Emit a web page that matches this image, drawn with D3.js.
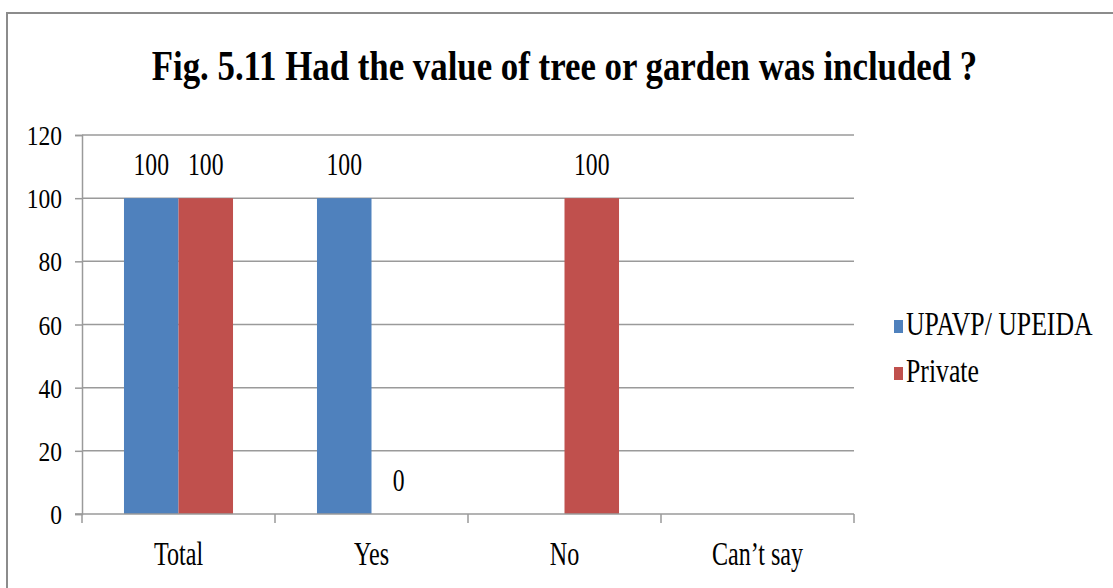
<!DOCTYPE html>
<html>
<head>
<meta charset="utf-8">
<script src="https://cdn.jsdelivr.net/npm/d3@7"></script>
<style>
  html, body { margin: 0; padding: 0; background: #fff; }
  svg { display: block; }
  text { fill: #000; }
</style>
</head>
<body>
<svg id="chart" width="1113" height="588" font-family="'Liberation Serif', 'Times New Roman', Tinos, 'DejaVu Serif', serif"></svg>
<script>
const categories = ["Total", "Yes", "No", "Can\u2019t say"];
const seriesNames = ["UPAVP/ UPEIDA", "Private"];
const upavpValues = [100, 100, null, null];
const privateValues = [100, 0, 100, null];
const yTicks = [0, 20, 40, 60, 80, 100, 120];
const chartTitle = "Fig. 5.11 Had the value of tree or garden was included ?";

const colors = ["#4f81bd", "#c0504d"];
const gridColor = "#9a9a9a";

const svg = d3.select("#chart");
const margin = { left: 82, right: 259, top: 135, bottom: 74 };
const width = 1113, height = 588;

// text in the original is horizontally condensed
function squeezed(sel, x, y, sx) {
  return sel.attr("transform", `translate(${x},${y}) scale(${sx},1)`);
}

// outer frame
svg.append("rect")
  .attr("x", 7).attr("y", 13)
  .attr("width", 1140).attr("height", 600)
  .attr("fill", "none")
  .attr("stroke", "#8c8c8c")
  .attr("stroke-width", 2);

const x0 = d3.scaleBand()
  .domain(categories)
  .range([margin.left, width - margin.right]);

const x1 = d3.scaleBand()
  .domain(seriesNames)
  .range([0, x0.bandwidth()])
  .paddingOuter(0.77);

const y = d3.scaleLinear()
  .domain([0, 120])
  .range([height - margin.bottom, margin.top]);

// gridlines
svg.append("g")
  .selectAll("line")
  .data(yTicks.filter((t) => t > 0))
  .join("line")
  .attr("x1", margin.left)
  .attr("x2", width - margin.right)
  .attr("y1", (d) => y(d))
  .attr("y2", (d) => y(d))
  .attr("stroke", gridColor)
  .attr("stroke-width", 1.5);

// bars
const rows = categories.map((c, i) => ({
  cat: c,
  vals: [upavpValues[i], privateValues[i]],
}));

const groups = svg.append("g")
  .selectAll("g")
  .data(rows)
  .join("g")
  .attr("transform", (d) => `translate(${x0(d.cat)},0)`);

groups.selectAll("rect")
  .data((d) => d.vals.map((v, k) => ({ v, k })).filter((e) => e.v !== null))
  .join("rect")
  .attr("x", (e) => x1(seriesNames[e.k]))
  .attr("width", x1.bandwidth())
  .attr("y", (e) => y(e.v))
  .attr("height", (e) => y(0) - y(e.v))
  .attr("fill", (e) => colors[e.k]);

groups.selectAll("text")
  .data((d) => d.vals.map((v, k) => ({ v, k })).filter((e) => e.v !== null))
  .join("text")
  .attr("text-anchor", "middle")
  .attr("font-size", 32)
  .text((e) => e.v)
  .each(function (e) {
    squeezed(d3.select(this), x1(seriesNames[e.k]) + x1.bandwidth() / 2, y(e.v) - 23, 0.74);
  });

// y axis
const yAxis = svg.append("g")
  .attr("transform", `translate(${margin.left},0)`)
  .call(d3.axisLeft(y).tickValues(yTicks).tickSize(7).tickFormat(d3.format("d")));
yAxis.attr("font-family", null).attr("font-size", null);
yAxis.select(".domain").attr("stroke", gridColor).attr("stroke-width", 1.5);
yAxis.selectAll(".tick line").attr("stroke", gridColor).attr("stroke-width", 1.5);
yAxis.selectAll(".tick text").remove();
yAxis.selectAll(".tick")
  .append("text")
  .attr("text-anchor", "end")
  .attr("font-size", 27)
  .attr("fill", "#000")
  .text((d) => d)
  .each(function () {
    squeezed(d3.select(this), -20, 9.5, 0.87);
  });

// x axis
const xAxisG = svg.append("g")
  .attr("transform", `translate(0,${y(0)})`);
xAxisG.append("line")
  .attr("x1", margin.left - 7)
  .attr("x2", width - margin.right)
  .attr("stroke", gridColor)
  .attr("stroke-width", 1.5);
const boundaries = categories.map((c) => x0(c)).concat([x0.range()[1]]);
xAxisG.selectAll("line.tk")
  .data(boundaries)
  .join("line")
  .attr("class", "tk")
  .attr("x1", (d) => d).attr("x2", (d) => d)
  .attr("y1", 0).attr("y2", 9)
  .attr("stroke", gridColor)
  .attr("stroke-width", 1.5);
xAxisG.selectAll("text")
  .data(categories)
  .join("text")
  .attr("text-anchor", "middle")
  .attr("font-size", 33)
  .text((d) => d)
  .each(function (d) {
    squeezed(d3.select(this), x0(d) + x0.bandwidth() / 2, 51, 0.73);
  });

// title
squeezed(
  svg.append("text")
    .attr("text-anchor", "middle")
    .attr("font-size", 43)
    .attr("font-weight", "bold")
    .text(chartTitle),
  564.5, 80, 0.81
);

// legend
const legend = svg.append("g")
  .selectAll("g")
  .data(seriesNames)
  .join("g")
  .attr("transform", (d, i) => `translate(894,${320 + i * 47})`);
legend.append("rect")
  .attr("width", 9)
  .attr("height", 13)
  .attr("fill", (d, i) => colors[i]);
legend.append("text")
  .attr("font-size", 33)
  .text((d) => d)
  .each(function () {
    squeezed(d3.select(this), 12, 15, 0.78);
  });
</script>
</body>
</html>
